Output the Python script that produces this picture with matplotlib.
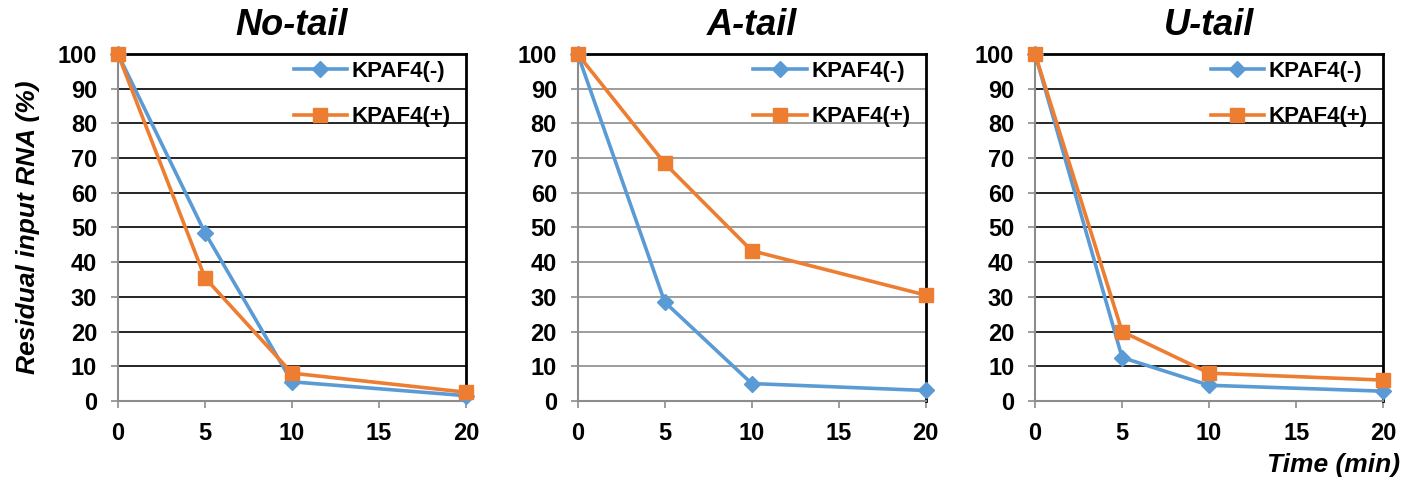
import matplotlib
matplotlib.use("Agg")
import matplotlib.pyplot as plt

# data
time_min = [0, 5, 10, 20]
panel_titles = ["No-tail", "A-tail", "U-tail"]
no_tail_minus = [100, 48.5, 5.5, 1.5]
no_tail_plus = [100, 35.5, 8, 2.5]
a_tail_minus = [100, 28.5, 5, 3]
a_tail_plus = [100, 68.5, 43.3, 30.5]
u_tail_minus = [100, 12.5, 4.5, 2.8]
u_tail_plus = [100, 20, 8, 6]
series_labels = ["KPAF4(-)", "KPAF4(+)"]

plt.rcParams["font.family"] = ["Liberation Sans", "DejaVu Sans"]

blue = "#5B9BD5"
orange = "#ED7D31"

fig = plt.figure(figsize=(14.16, 4.83), dpi=100)
lefts = [0.0833, 0.408, 0.731]
width = 0.2458
bottom = 0.17
height = 0.718

minus_data = [no_tail_minus, a_tail_minus, u_tail_minus]
plus_data = [no_tail_plus, a_tail_plus, u_tail_plus]
grid_colors = ["black", "#8c8c8c", "black"]

for i in range(3):
    ax = fig.add_axes([lefts[i], bottom, width, height])
    ax.plot(time_min, minus_data[i], color=blue, lw=2.6, marker="D",
            markersize=8, label=series_labels[0], clip_on=False, zorder=3)
    ax.plot(time_min, plus_data[i], color=orange, lw=2.6, marker="s",
            markersize=10, label=series_labels[1], clip_on=False, zorder=4)
    ax.set_xlim(0, 20)
    ax.set_ylim(0, 100)
    ax.set_xticks([0, 5, 10, 15, 20])
    ax.set_yticks(range(0, 101, 10))
    ax.yaxis.grid(True, color=grid_colors[i], lw=1.2)
    ax.set_axisbelow(True)
    for side in ["top", "right"]:
        ax.spines[side].set_color("black")
        ax.spines[side].set_linewidth(2)
    for side in ["left", "bottom"]:
        ax.spines[side].set_color("#8c8c8c")
        ax.spines[side].set_linewidth(1.5)
    ax.tick_params(direction="out", length=5, width=1.2, color="#8c8c8c",
                   labelsize=17, pad=10)
    for lab in ax.get_xticklabels() + ax.get_yticklabels():
        lab.set_fontweight("bold")
    ax.set_title(panel_titles[i], fontsize=26, fontweight="bold",
                 fontstyle="italic", pad=14)
    ax.legend(loc="upper right", frameon=False,
              prop={"weight": "bold", "size": 16}, handlelength=2.4,
              labelspacing=1.1, borderaxespad=0.3, handletextpad=0.2,
              bbox_to_anchor=(1.0, 1.025))
    if i == 0:
        ax.set_ylabel("Residual input RNA (%)", fontsize=19, fontweight="bold",
                      fontstyle="italic")
        ax.yaxis.set_label_coords(-0.224, 0.5)

fig.text(1400 / 1416, 1 - 465 / 483, "Time (min)", fontsize=19,
         fontweight="bold", fontstyle="italic", ha="right", va="center")

fig.savefig("out.png", dpi=100)
